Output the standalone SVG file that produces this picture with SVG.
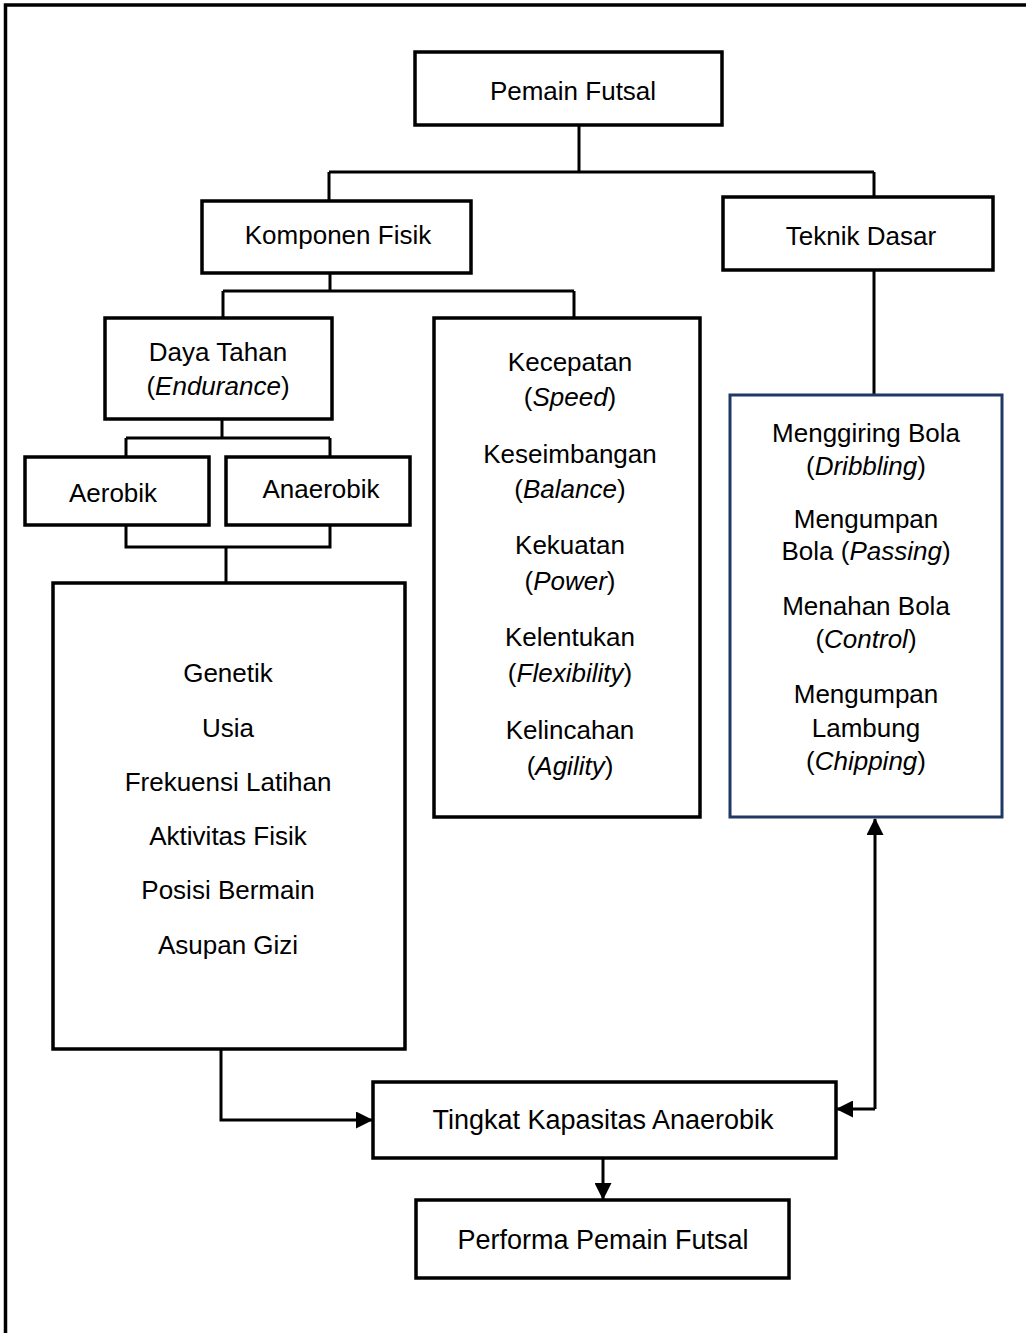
<svg xmlns="http://www.w3.org/2000/svg" width="1026" height="1333" viewBox="0 0 1026 1333">
<style>
.box{fill:#fff;stroke:#000;stroke-width:3.5}
.navy{fill:#fff;stroke:#1f3864;stroke-width:3}
.ln{fill:none;stroke:#000;stroke-width:3}
text{font-family:"Liberation Sans",Arial,sans-serif;font-size:26px;fill:#000;text-anchor:middle}
.big{font-size:27px}
.i{font-style:italic}
</style>
<defs>
<marker id="ah" markerUnits="userSpaceOnUse" markerWidth="17" markerHeight="17" refX="16" refY="8.5" orient="auto">
<path d="M0,0 L17,8.5 L0,17 Z" fill="#000"/>
</marker>
</defs>
<rect x="0" y="0" width="1026" height="1333" fill="#fff"/>
<rect x="5.5" y="5" width="1100" height="1400" fill="none" stroke="#000" stroke-width="3.5"/>

<g id="connectors">
<path class="ln" d="M579,125 V172 M329,172 H874 M329,172 V201 M874,172 V197"/>
<path class="ln" d="M330,273 V291 M223,291 H574 M223,291 V318 M574,291 V318"/>
<path class="ln" d="M222,419 V438 M126,438 H330 M126,438 V457 M330,438 V457"/>
<path class="ln" d="M126,525 V547 H330 V525 M226,547 V583"/>
<path class="ln" d="M874,270 V395"/>
<path class="ln" d="M221,1049 V1120 H372" marker-end="url(#ah)"/>
<path class="ln" d="M875,1109 V819" marker-end="url(#ah)"/>
<path class="ln" d="M875,1109 H837" marker-end="url(#ah)"/>
<path class="ln" d="M603,1158 V1199" marker-end="url(#ah)"/>
</g>

<g id="pemain">
<rect class="box" x="415" y="52" width="307" height="73"/>
<text x="573" y="100">Pemain Futsal</text>
</g>
<g id="komponen">
<rect class="box" x="202" y="201" width="269" height="72"/>
<text x="338" y="244">Komponen Fisik</text>
</g>
<g id="teknik">
<rect class="box" x="723" y="197" width="270" height="73"/>
<text x="861" y="245">Teknik Dasar</text>
</g>
<g id="dayatahan">
<rect class="box" x="105" y="318" width="227" height="101"/>
<text x="218" y="361">Daya Tahan</text>
<text x="218" y="395">(<tspan class="i">Endurance</tspan>)</text>
</g>
<g id="aerobik">
<rect class="box" x="25" y="457" width="184" height="68"/>
<text x="113" y="502">Aerobik</text>
</g>
<g id="anaerobik">
<rect class="box" x="226" y="457" width="184" height="68"/>
<text x="321" y="498">Anaerobik</text>
</g>
<g id="faktor">
<rect class="box" x="53" y="583" width="352" height="466"/>
<text x="228" y="682">Genetik</text>
<text x="228" y="737">Usia</text>
<text x="228" y="791">Frekuensi Latihan</text>
<text x="228" y="845">Aktivitas Fisik</text>
<text x="228" y="899">Posisi Bermain</text>
<text x="228" y="954">Asupan Gizi</text>
</g>
<g id="komponenlist">
<rect class="box" x="434" y="318" width="266" height="499"/>
<text x="570" y="371">Kecepatan</text>
<text x="570" y="406">(<tspan class="i">Speed</tspan>)</text>
<text x="570" y="463">Keseimbangan</text>
<text x="570" y="498">(<tspan class="i">Balance</tspan>)</text>
<text x="570" y="554">Kekuatan</text>
<text x="570" y="590">(<tspan class="i">Power</tspan>)</text>
<text x="570" y="646">Kelentukan</text>
<text x="570" y="682">(<tspan class="i">Flexibility</tspan>)</text>
<text x="570" y="739">Kelincahan</text>
<text x="570" y="775">(<tspan class="i">Agility</tspan>)</text>
</g>
<g id="tekniklist">
<rect class="navy" x="730" y="395" width="272" height="422"/>
<text x="866" y="442">Menggiring Bola</text>
<text x="866" y="475">(<tspan class="i">Dribbling</tspan>)</text>
<text x="866" y="528">Mengumpan</text>
<text x="866" y="560">Bola (<tspan class="i">Passing</tspan>)</text>
<text x="866" y="615">Menahan Bola</text>
<text x="866" y="648">(<tspan class="i">Control</tspan>)</text>
<text x="866" y="703">Mengumpan</text>
<text x="866" y="737">Lambung</text>
<text x="866" y="770">(<tspan class="i">Chipping</tspan>)</text>
</g>
<g id="tingkat">
<rect class="box" x="373" y="1082" width="463" height="76"/>
<text class="big" x="603" y="1129">Tingkat Kapasitas Anaerobik</text>
</g>
<g id="performa">
<rect class="box" x="416" y="1200" width="373" height="78"/>
<text class="big" x="603" y="1249">Performa Pemain Futsal</text>
</g>
</svg>
